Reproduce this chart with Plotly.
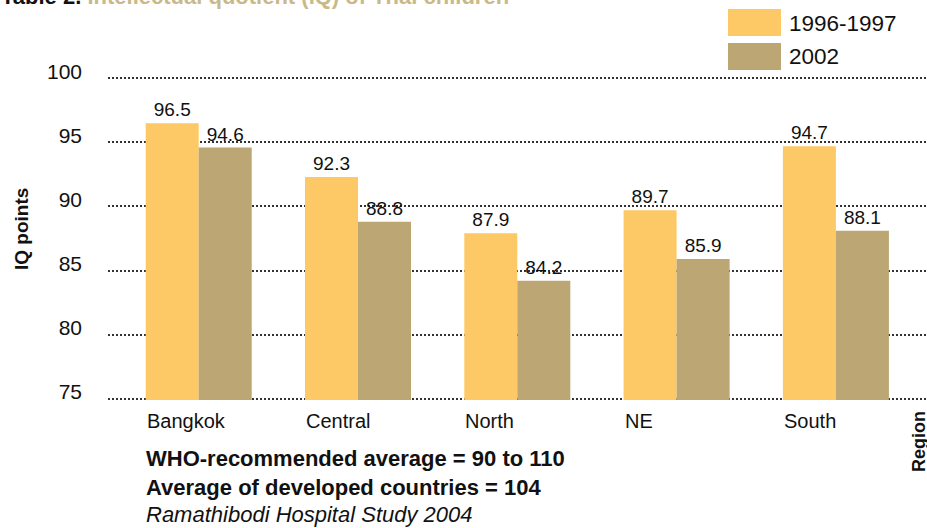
import plotly.graph_objects as go

regions = ["Bangkok", "Central", "North", "NE", "South"]
iq_1996 = [96.5, 92.3, 87.9, 89.7, 94.7]
iq_2002 = [94.6, 88.8, 84.2, 85.9, 88.1]
series_names = ["1996-1997", "2002"]
y_ticks = [75, 80, 85, 90, 95, 100]

c1 = "#FDC966"
c2 = "#BBA674"
font = "Liberation Sans, Arial, sans-serif"

L, R, T, B = 108, 0, 77, 128
W, H = 927, 528
PW, PH = W - L - R, H - T - B


def px_x(x):
    return (x - L) / PW


def px_y(y):
    return (H - B - y) / PH


fig = go.Figure()
for name, vals, col in [(series_names[0], iq_1996, c1), (series_names[1], iq_2002, c2)]:
    fig.add_trace(go.Bar(
        x=regions, y=vals, name=name, marker=dict(color=col, line=dict(width=0)),
        text=[f"{v:.1f}" for v in vals], textposition="outside", constraintext="none",
        textfont=dict(size=19, color="#111", family=font), cliponaxis=False,
        showlegend=False, hoverinfo="skip",
    ))

fig.update_layout(
    width=W, height=H,
    margin=dict(l=L, r=R, t=T, b=B, pad=0),
    paper_bgcolor="white", plot_bgcolor="white",
    barmode="group", bargap=0.3345, bargroupgap=0,
    font=dict(family=font, color="#111"),
    xaxis=dict(range=[-0.5694, 4.5718], showgrid=False, showline=False, zeroline=False,
               ticks="", showticklabels=False),
    yaxis=dict(range=[74.9, 100.1], tickvals=y_ticks, showgrid=True, gridcolor="#333",
               griddash="1.5px,2.5px", gridwidth=1.5, zeroline=False, showline=False,
               ticks="", tickfont=dict(size=21, family=font, color="#111"),
               ticklabelstandoff=25, ticklabelshift=-7),
)

# category labels, left-aligned with each group's first bar
for r in regions:
    fig.add_annotation(x=r, xref="x", yref="paper", y=px_y(421), text=r,
                       showarrow=False, xanchor="left", yanchor="middle", xshift=-54,
                       font=dict(size=20, family=font, color="#111"))

# legend drawn manually
for i, (name, col) in enumerate(zip(series_names, [c1, c2])):
    y0 = 9 + i * 34
    fig.add_shape(type="rect", xref="paper", yref="paper",
                  x0=px_x(728), x1=px_x(781), y0=px_y(y0 + 27), y1=px_y(y0),
                  fillcolor=col, line=dict(width=0))
    fig.add_annotation(xref="paper", yref="paper", x=px_x(787), y=px_y(y0 + 14),
                       text=name, showarrow=False, xanchor="left", yanchor="middle",
                       font=dict(size=22.5, family=font, color="#111"))

# title (clipped at top edge)
fig.add_annotation(xref="paper", yref="paper", x=px_x(-1), y=px_y(-4),
                   text="<b>Table 2. <span style='color:#C9B98A'>Intellectual quotient (IQ) of Thai children</span></b>",
                   showarrow=False, xanchor="left", yanchor="middle",
                   font=dict(size=22, family=font, color="#111"))

fig.add_annotation(xref="paper", yref="paper", x=px_x(21), y=px_y(229),
                   text="<b>IQ points</b>", textangle=-90, showarrow=False,
                   xanchor="center", yanchor="middle",
                   font=dict(size=19, family=font, color="#111"))
fig.add_annotation(xref="paper", yref="paper", x=px_x(919), y=px_y(442),
                   text="<b>Region</b>", textangle=-90, showarrow=False,
                   xanchor="center", yanchor="middle",
                   font=dict(size=18, family=font, color="#111"))

notes = [("<b>WHO-recommended average = 90 to 110</b>", 458),
         ("<b>Average of developed countries = 104</b>", 487),
         ("<i>Ramathibodi Hospital Study 2004</i>", 514)]
for txt, yy in notes:
    fig.add_annotation(xref="paper", yref="paper", x=px_x(144), y=px_y(yy),
                       text=txt, showarrow=False, xanchor="left", yanchor="middle",
                       font=dict(size=22, family=font, color="#111"))

fig.write_html("out.html", config={"displayModeBar": False},
               post_script="document.body.style.margin='0';document.body.style.padding='0';")
